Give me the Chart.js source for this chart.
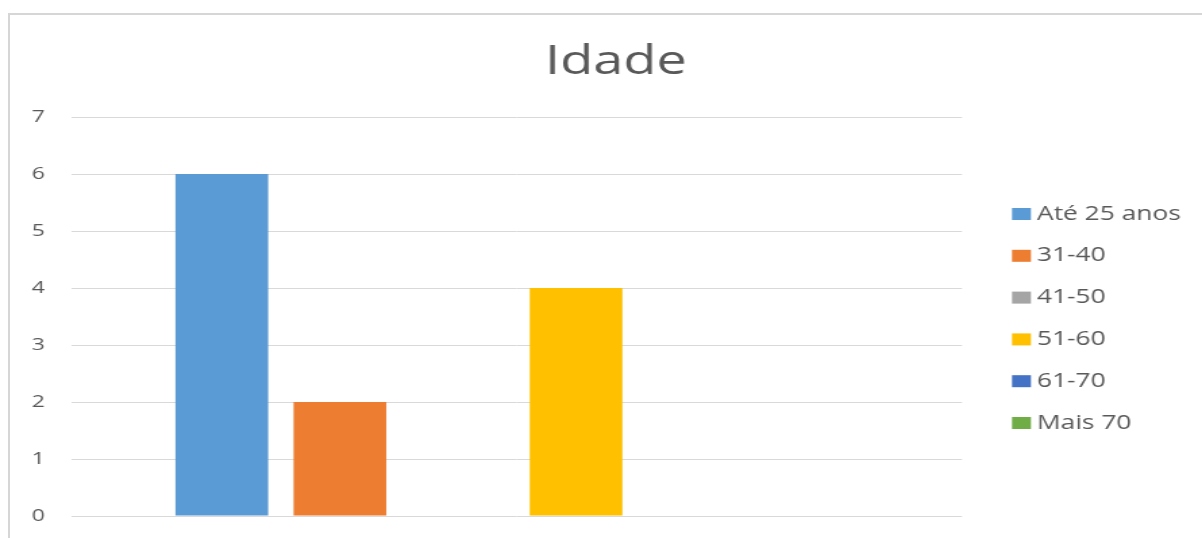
<!DOCTYPE html>
<html>
<head>
<meta charset="utf-8">
<script src="https://cdn.jsdelivr.net/npm/chart.js@4"></script>
<style>
  html, body { margin: 0; padding: 0; background: #fff; overflow: hidden; }
  #frame {
    position: absolute; left: 8px; top: 13px; width: 1400px; height: 700px;
    border-left: 2px solid #d6d6d6; border-top: 2px solid #d6d6d6;
  }
  /* the reference is a horizontally stretched screenshot */
  #wrap {
    position: absolute; left: 0; top: 0; width: 890px; height: 538px;
    transform: scaleX(1.3506); transform-origin: 0 0;
  }
</style>
</head>
<body>
<div id="frame"></div>
<div id="wrap"><canvas id="ageChart"></canvas></div>
<script>
// data
const categories = ['Idade'];
const seriesNames = ['Até 25 anos', '31-40', '41-50', '51-60', '61-70', 'Mais 70'];
const seriesValues = [6, 2, 0, 4, 0, 0];
const yTicks = [0, 1, 2, 3, 4, 5, 6, 7];

const colors = ['#5b9bd5', '#ed7d31', '#a5a5a5', '#ffc000', '#4472c4', '#70ad47'];
const textColor = '#595959';
const fontFamily = '"Open Sans", sans-serif';

// legend drawn at the side like the Excel one
const sideLegend = {
  id: 'sideLegend',
  afterDraw(chart) {
    const ctx = chart.ctx;
    const area = chart.chartArea;
    const boxX = area.right + 37;
    const rowGap = 41.8;
    const midY = (area.top + area.bottom) / 2 + 2;
    ctx.save();
    ctx.font = '19.5px ' + fontFamily;
    ctx.textBaseline = 'middle';
    ctx.textAlign = 'left';
    chart.data.datasets.forEach((ds, i) => {
      const y = midY + (i - (chart.data.datasets.length - 1) / 2) * rowGap;
      ctx.fillStyle = ds.backgroundColor;
      ctx.fillRect(boxX, y - 6, 14, 12);
      ctx.fillStyle = textColor;
      ctx.fillText(ds.label, boxX + 18.5, y);
    });
    ctx.restore();
  }
};

new Chart(document.getElementById('ageChart'), {
  type: 'bar',
  data: {
    labels: categories,
    datasets: seriesNames.map((name, i) => ({
      label: name,
      data: [seriesValues[i]],
      backgroundColor: colors[i],
      categoryPercentage: 0.796,
      barPercentage: 0.785
    }))
  },
  options: {
    responsive: true,
    maintainAspectRatio: false,
    animation: false,
    layout: { padding: { left: 22, right: 0, top: 0, bottom: 22 } },
    plugins: {
      legend: { display: false },
      tooltip: { enabled: false },
      title: {
        display: true,
        text: 'Idade',
        color: textColor,
        font: { family: fontFamily, size: 40, weight: 'normal', lineHeight: 1.2 },
        padding: { top: 39, bottom: 30 }
      }
    },
    scales: {
      x: { display: false },
      y: {
        min: yTicks[0],
        max: yTicks[yTicks.length - 1],
        afterFit: (s) => { s.width = 31.3; },
        ticks: { stepSize: 1, padding: 0, color: textColor, font: { family: fontFamily, size: 17 } },
        grid: { color: '#d9d9d9', drawTicks: true, tickLength: 20, tickColor: 'rgba(0,0,0,0)' },
        border: { display: false }
      },
      yRight: {
        type: 'linear',
        position: 'right',
        afterFit: (s) => { s.width = 177.7; },
        ticks: { display: false },
        grid: { display: false },
        border: { display: false }
      }
    }
  },
  plugins: [sideLegend]
});
</script>
</body>
</html>
